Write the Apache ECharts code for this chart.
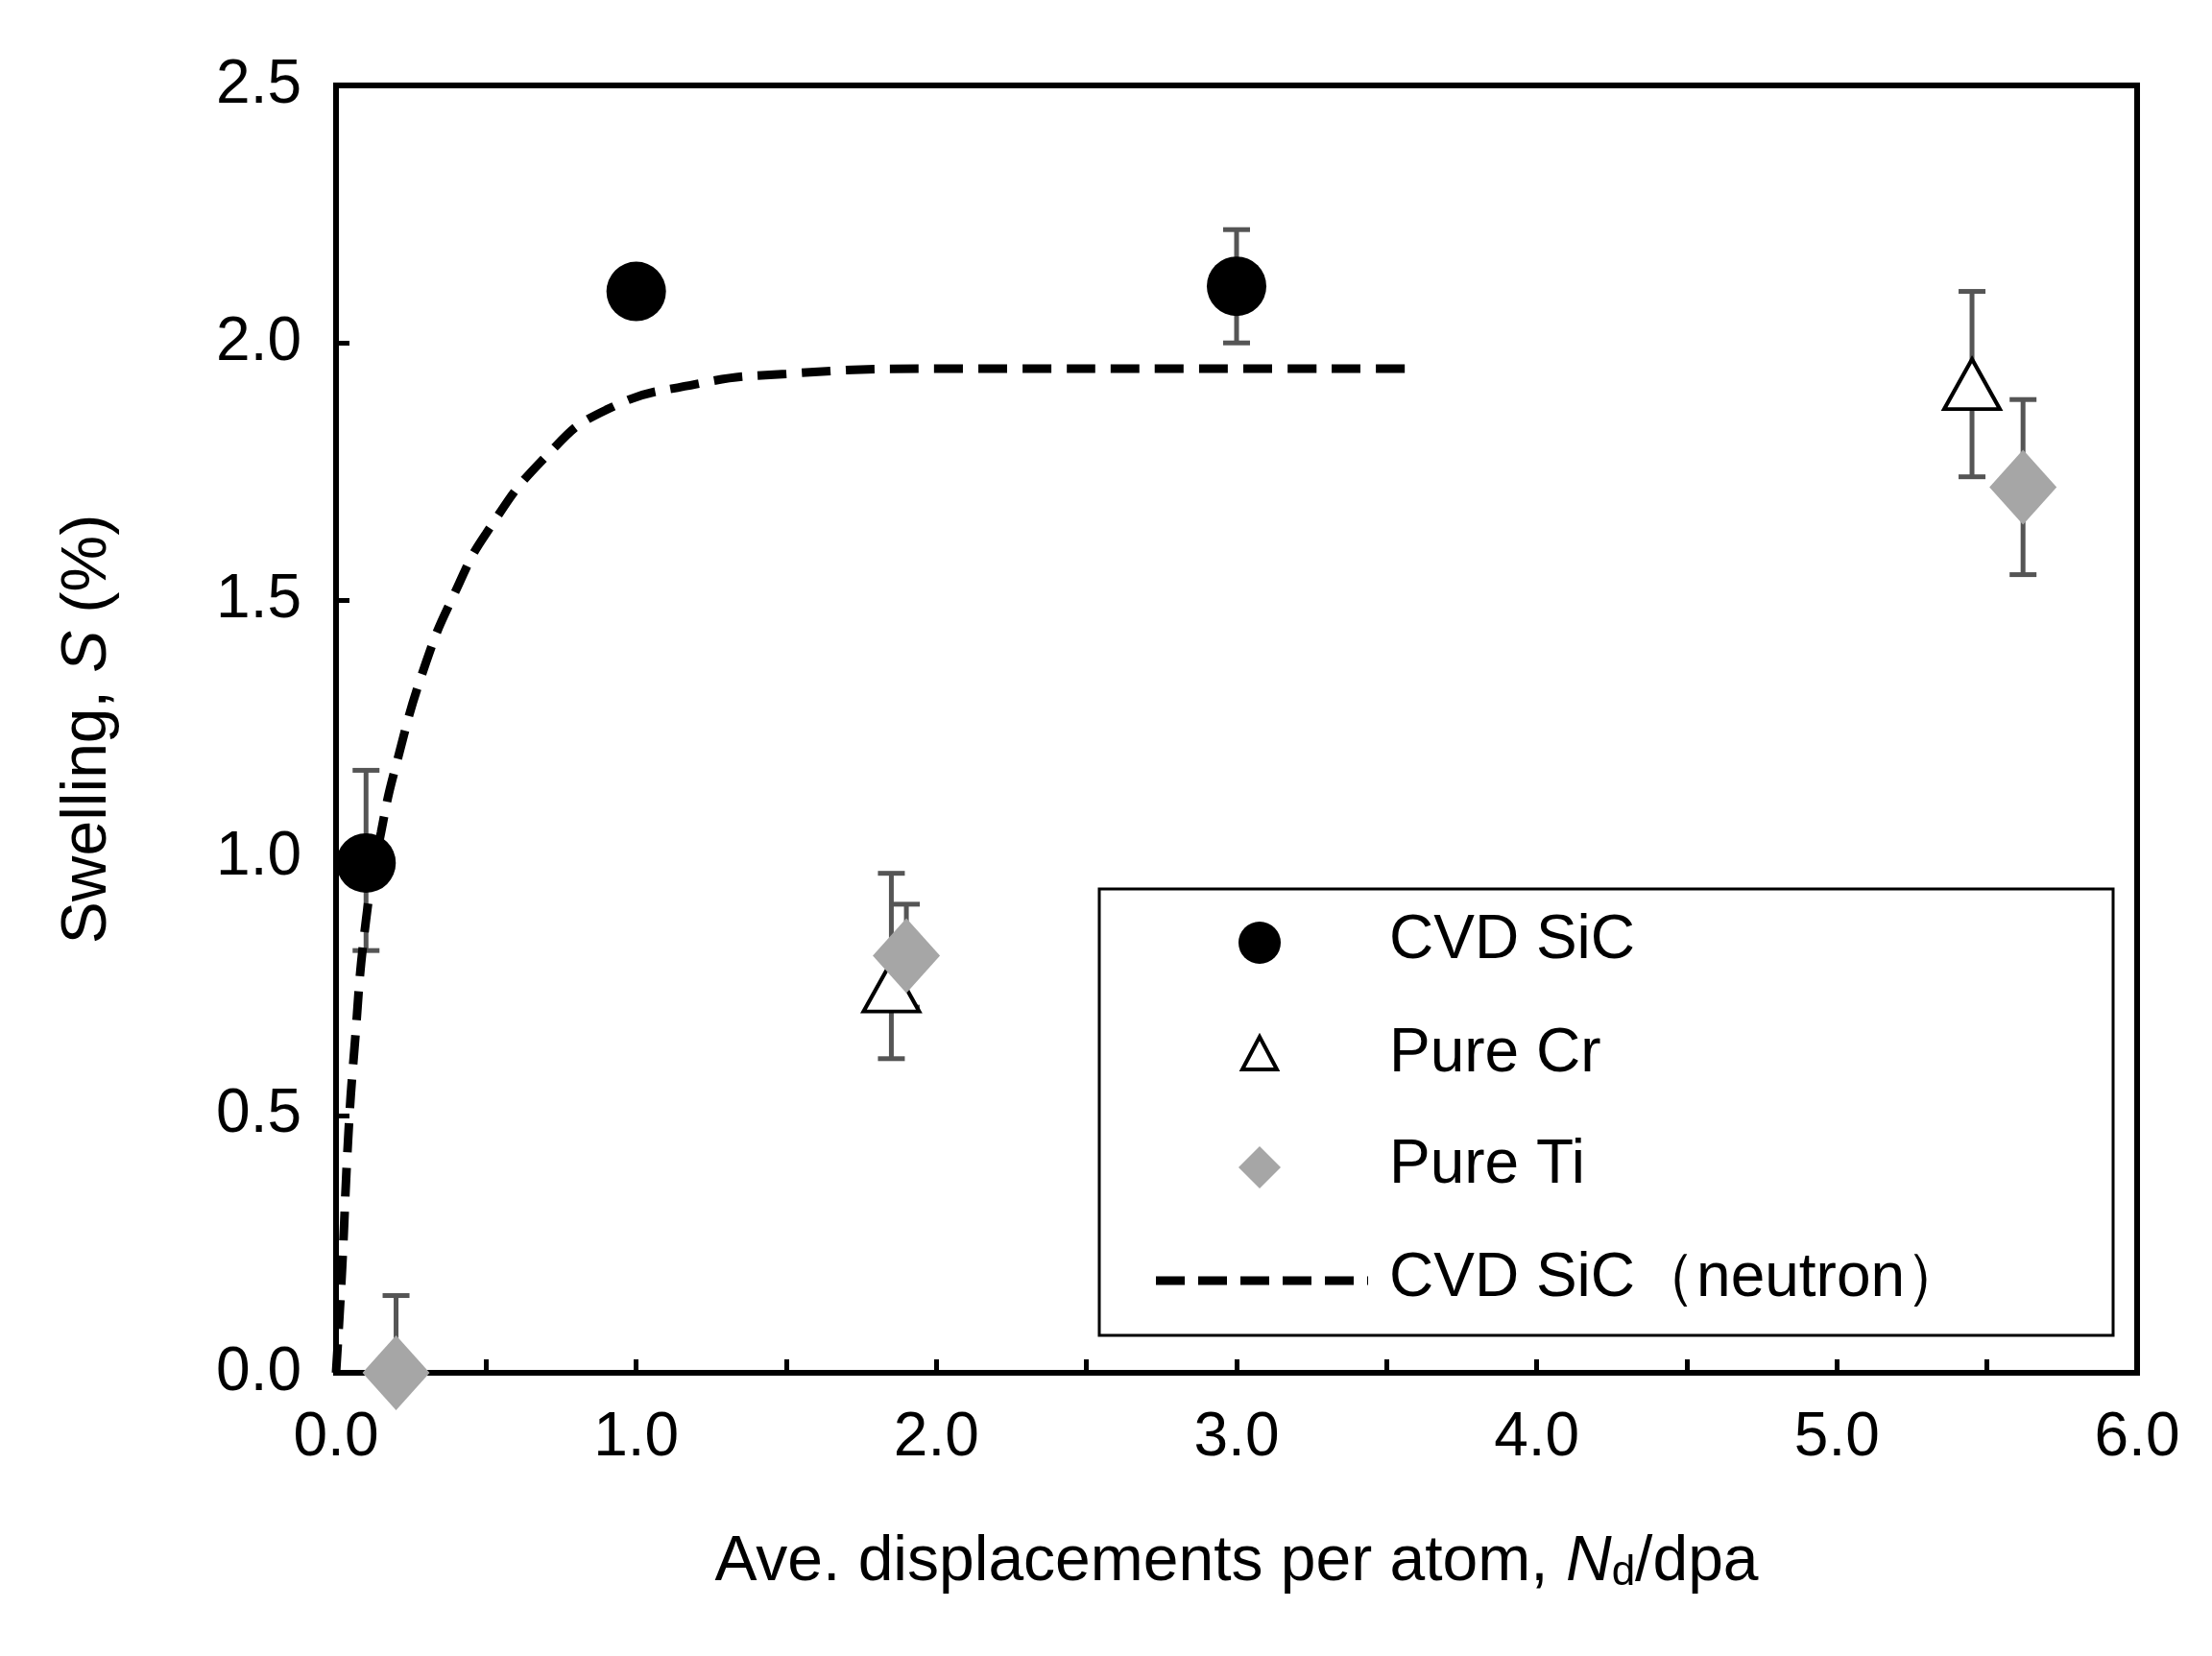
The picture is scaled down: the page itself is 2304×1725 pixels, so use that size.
<!DOCTYPE html><html><head><meta charset="utf-8"><script src="https://cdn.jsdelivr.net/npm/echarts@6/dist/echarts.min.js"></script>
<style>html,body{margin:0;background:#fff}#c{width:2304px;height:1725px}</style></head><body><div id="c"></div><script>
const sicData=[[0.1,0.99,0.82,1.17],[1.0,2.1,2.1,2.1],[3.0,2.11,2.0,2.22]];
const crData=[[0.2,-0.02,-0.02,-0.02],[1.85,0.75,0.61,0.97],[5.45,1.92,1.74,2.1]];
const tiData=[[0.2,0.0,0.0,0.15],[1.9,0.81,0.71,0.91],[5.62,1.72,1.55,1.89]];
const neutronX=[0,0.02,0.04,0.06,0.1,0.15,0.2,0.3,0.4,0.5,0.7,0.9,1.2,1.5,2.0,3.0,3.6];
const neutronY=[0,0.2,0.45,0.62,0.88,1.05,1.18,1.38,1.52,1.63,1.78,1.87,1.92,1.94,1.95,1.95,1.95];
const xTicks=['0.0','1.0','2.0','3.0','4.0','5.0','6.0'];
const legendNames=['CVD SiC','Pure Cr','Pure Ti','CVD SiC（neutron）'];
const ff='Liberation Sans, Arial, sans-serif';
function errSeries(d){return{type:'custom',silent:true,z:1,data:d.filter(p=>p[3]>p[2]).map(p=>[p[0],p[2],p[3]]),
 renderItem(params,api){const x=api.value(0);const lo=api.coord([x,api.value(1)]),hi=api.coord([x,api.value(2)]);
 const s={stroke:'#555',lineWidth:5};
 return{type:'group',children:[{type:'line',shape:{x1:lo[0],y1:lo[1],x2:hi[0],y2:hi[1]},style:s},
 {type:'line',shape:{x1:lo[0]-14,y1:lo[1],x2:lo[0]+14,y2:lo[1]},style:s},
 {type:'line',shape:{x1:hi[0]-14,y1:hi[1],x2:hi[0]+14,y2:hi[1]},style:s}]};}};}
const ly=[982,1100,1216,1334];
const txt=(i)=>({type:'text',left:1447,top:ly[i]-34,style:{text:legendNames[i],font:'64px '+ff,fill:'#000'}});
const ch=echarts.init(document.getElementById('c'));
ch.setOption({animation:false,
grid:{left:350,right:78,top:89,bottom:295,show:true,borderColor:'#000',borderWidth:6},
graphic:[
 {type:'rect',z:10,shape:{x:1145,y:926,width:1056,height:465},style:{fill:'#fff',stroke:'#000',lineWidth:3}},
 {type:'circle',z:11,shape:{cx:1312,cy:ly[0],r:22},style:{fill:'#000'}},
 {type:'polygon',z:11,shape:{points:[[1312,ly[1]-20],[1294,ly[1]+14],[1330,ly[1]+14]]},style:{fill:'#fff',stroke:'#000',lineWidth:4}},
 {type:'polygon',z:11,shape:{points:[[1312,ly[2]-22],[1334,ly[2]],[1312,ly[2]+22],[1290,ly[2]]]},style:{fill:'#a6a6a6'}},
 {type:'line',z:11,shape:{x1:1204,y1:ly[3],x2:1425,y2:ly[3]},style:{stroke:'#000',lineWidth:9,lineDash:[30,14]}},
 Object.assign(txt(0),{z:11}),Object.assign(txt(1),{z:11}),Object.assign(txt(2),{z:11}),Object.assign(txt(3),{z:11})],
xAxis:{type:'value',min:0,max:6,interval:0.5,
 axisLine:{lineStyle:{color:'#000',width:6}},axisTick:{inside:true,length:14,lineStyle:{width:5,color:'#000'}},
 splitLine:{show:false},axisLabel:{fontFamily:ff,fontSize:64,color:'#000',margin:36,formatter:v=>Number.isInteger(v)?xTicks[v]:''},
 name:'Ave. displacements per atom, {i|N}{s|d}/dpa',nameLocation:'middle',nameGap:165,
 nameTextStyle:{fontFamily:ff,fontSize:66,color:'#000',rich:{i:{fontFamily:ff,fontSize:66,fontStyle:'italic'},s:{fontFamily:ff,fontSize:44,verticalAlign:'bottom',padding:[22,0,0,0]}}}},
yAxis:{type:'value',min:0,max:2.5,interval:0.5,
 axisLine:{lineStyle:{color:'#000',width:6}},axisTick:{inside:true,length:14,lineStyle:{width:5,color:'#000'}},
 splitLine:{show:false},axisLabel:{fontFamily:ff,fontSize:64,color:'#000',margin:36,formatter:v=>v.toFixed(1)},
 name:'Swelling, {i|S} (%)',nameLocation:'middle',nameGap:225,
 nameTextStyle:{fontFamily:ff,fontSize:66,color:'#000',rich:{i:{fontFamily:ff,fontSize:66,fontStyle:'italic'}}}},
series:[errSeries(sicData),errSeries(crData),errSeries(tiData),
{name:'CVD SiC',type:'scatter',z:3,symbol:'circle',symbolSize:62,itemStyle:{color:'#000',opacity:1},data:sicData.map(p=>[p[0],p[1]])},
{name:'Pure Cr',type:'scatter',z:3,symbol:'triangle',symbolSize:[58,52],itemStyle:{color:'#fff',borderColor:'#000',borderWidth:4,opacity:1},data:crData.map(p=>[p[0],p[1]])},
{name:'Pure Ti',type:'scatter',z:4,symbol:'diamond',symbolSize:[70,78],itemStyle:{color:'#a6a6a6',opacity:1},data:tiData.map(p=>[p[0],p[1]])},
{name:'CVD SiC（neutron）',type:'line',smooth:true,symbol:'none',z:2,lineStyle:{color:'#000',width:9,type:[30,16]},itemStyle:{color:'#000'},
 data:neutronX.map((x,i)=>[x,neutronY[i]])}]});
</script></body></html>
